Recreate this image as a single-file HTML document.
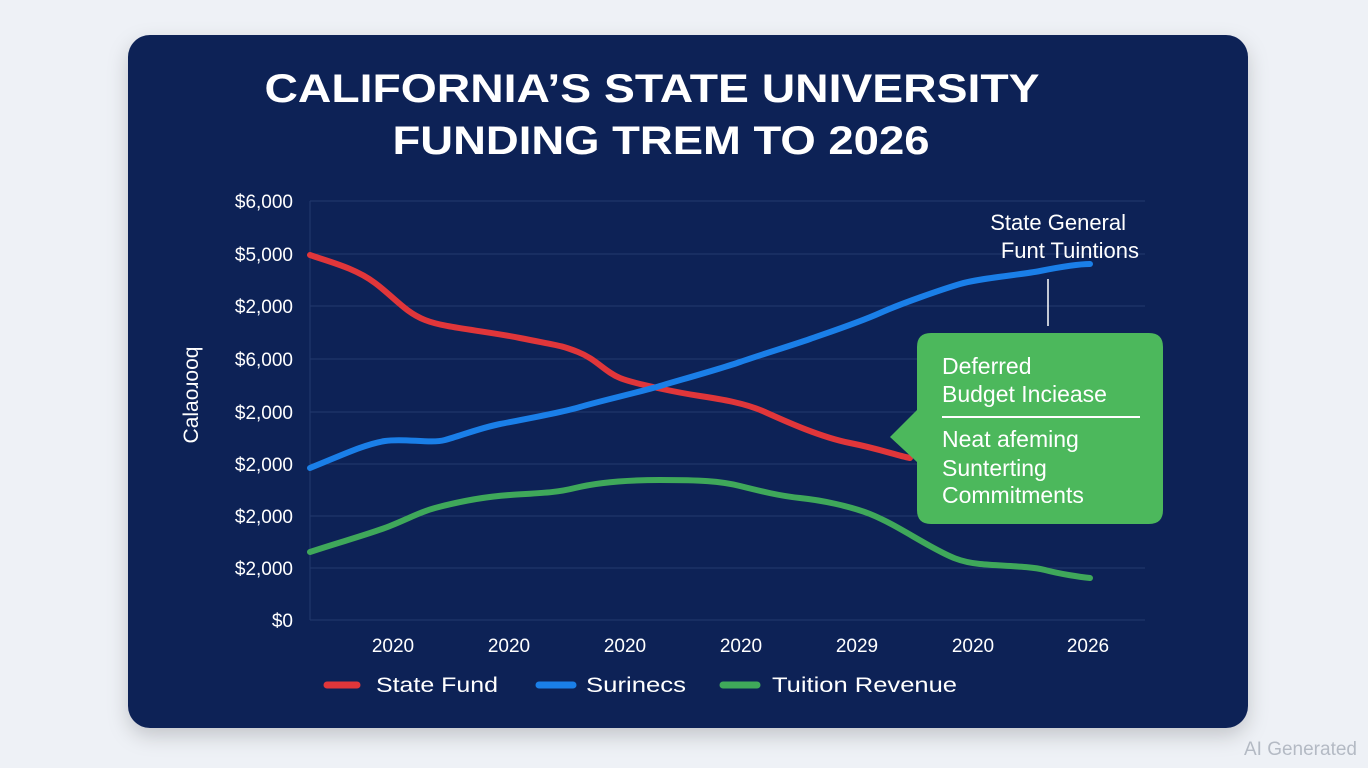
<!DOCTYPE html>
<html><head><meta charset="utf-8"><style>
html,body{margin:0;padding:0;background:#eef1f6;}
svg{display:block;font-family:"Liberation Sans",sans-serif;}
</style></head><body>
<svg width="1368" height="768" viewBox="0 0 1368 768" xmlns="http://www.w3.org/2000/svg">
<defs><filter id="sh" x="-10%" y="-10%" width="120%" height="130%"><feDropShadow dx="0" dy="8" stdDeviation="10" flood-color="#000" flood-opacity="0.18"/></filter></defs>
<rect x="0" y="0" width="1368" height="768" fill="#eef1f6"/>
<rect x="128" y="35" width="1120" height="693" rx="22" fill="#0c2157" filter="url(#sh)"/>
<g fill="#fff" font-weight="bold" font-size="40" text-anchor="middle">
<text x="652" y="102" textLength="775" lengthAdjust="spacingAndGlyphs">CALIFORNIA’S STATE UNIVERSITY</text>
<text x="661" y="154" textLength="537" lengthAdjust="spacingAndGlyphs">FUNDING TREM TO 2026</text>
</g>
<g stroke="#22396e" stroke-width="1">
<line x1="310" y1="201" x2="1145" y2="201"/><line x1="310" y1="254" x2="1145" y2="254"/>
<line x1="310" y1="306" x2="1145" y2="306"/><line x1="310" y1="359" x2="1145" y2="359"/>
<line x1="310" y1="412" x2="1145" y2="412"/><line x1="310" y1="464" x2="1145" y2="464"/>
<line x1="310" y1="516" x2="1145" y2="516"/><line x1="310" y1="568" x2="1145" y2="568"/>
<line x1="310" y1="620" x2="1145" y2="620"/><line x1="310" y1="201" x2="310" y2="620"/>
</g>
<g fill="#fff" font-size="19" text-anchor="end">
<text x="293" y="208">$6,000</text><text x="293" y="261">$5,000</text><text x="293" y="313">$2,000</text>
<text x="293" y="366">$6,000</text><text x="293" y="419">$2,000</text><text x="293" y="471">$2,000</text>
<text x="293" y="523">$2,000</text><text x="293" y="575">$2,000</text><text x="293" y="627">$0</text>
</g>
<text transform="translate(198,395) rotate(-90)" fill="#fff" font-size="21" text-anchor="middle">Calaoɹooq</text>
<g fill="#fff" font-size="19" text-anchor="middle">
<text x="393" y="652">2020</text><text x="509" y="652">2020</text><text x="625" y="652">2020</text>
<text x="741" y="652">2020</text><text x="857" y="652">2029</text><text x="973" y="652">2020</text><text x="1088" y="652">2026</text>
</g>
<g fill="none" stroke-width="6" stroke-linecap="round" stroke-linejoin="round">
<path stroke="#e0363a" d="M310,255 C330,262 355,268 375,283 S405,312 425,320 S480,330 520,338 S560,345 578,352 S605,372 620,378 S680,393 700,396 S745,403 765,412 S820,437 850,443 S895,455 910,458"/>
<path stroke="#1a7fe8" d="M310,468 C340,456 365,444 385,441 S430,444 445,440 S480,428 500,424 S560,413 580,407 S640,392 660,386 S720,369 740,362 S790,346 810,339 S860,322 880,313 S940,290 960,284 S1020,275 1040,271 S1080,264 1090,264"/>
<path stroke="#3fa85a" d="M310,552 C340,542 370,534 390,526 S420,512 435,508 S480,497 510,495 S555,493 575,488 S620,480 660,480 S720,481 740,486 S780,496 800,498 S850,506 870,514 S910,535 930,546 S960,562 980,564 S1030,566 1045,570 S1080,577 1090,578"/>
</g>
<line x1="1048" y1="279" x2="1048" y2="326" stroke="#fff" stroke-width="1.5"/>
<g fill="#fff" font-size="22" text-anchor="end">
<text x="1126" y="230">State General</text><text x="1139" y="258">Funt Tuintions</text>
</g>
<path d="M931,333 H1149 Q1163,333 1163,347 V510 Q1163,524 1149,524 H931 Q917,524 917,510 V462 L890,437 L917,410 V347 Q917,333 931,333 Z" fill="#4cb85c"/>
<line x1="942" y1="417" x2="1140" y2="417" stroke="#fff" stroke-width="2"/>
<g fill="#fff" font-size="23">
<text x="942" y="374">Deferred</text><text x="942" y="402">Budget Inciease</text>
<text x="942" y="447">Neat afeming</text><text x="942" y="476">Sunterting</text><text x="942" y="503">Commitments</text>
</g>
<g stroke-width="7" stroke-linecap="round">
<line x1="327" y1="685" x2="357" y2="685" stroke="#e0363a"/>
<line x1="539" y1="685" x2="573" y2="685" stroke="#1a7fe8"/>
<line x1="723" y1="685" x2="757" y2="685" stroke="#3fa85a"/>
</g>
<g fill="#fff" font-size="21">
<text x="376" y="692" textLength="122" lengthAdjust="spacingAndGlyphs">State Fund</text><text x="586" y="692" textLength="100" lengthAdjust="spacingAndGlyphs">Surinecs</text><text x="772" y="692" textLength="185" lengthAdjust="spacingAndGlyphs">Tuition Revenue</text>
</g>
<text x="1357" y="755" fill="#b4bac4" font-size="19" text-anchor="end">AI Generated</text>
</svg>
</body></html>
